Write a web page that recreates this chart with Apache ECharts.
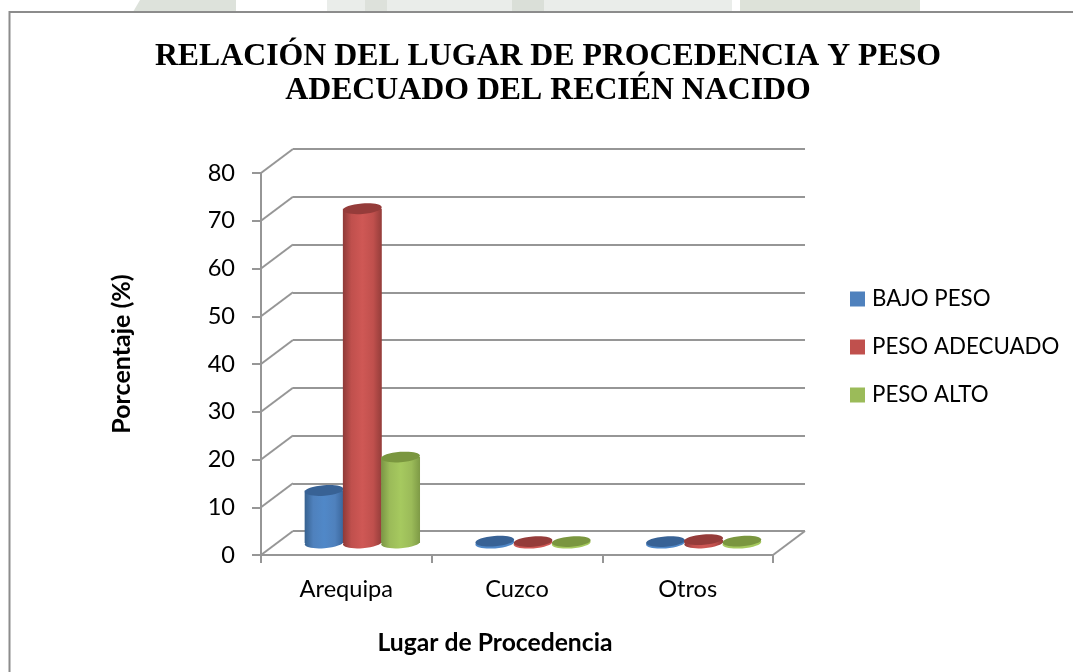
<!DOCTYPE html>
<html>
<head>
<meta charset="utf-8">
<style>html,body{margin:0;padding:0;background:#fff}#c{width:1073px;height:672px}</style>
<script src="https://cdn.jsdelivr.net/npm/echarts@6/dist/echarts.min.js"></script>
</head>
<body>
<div id="c"></div>
<script>
const categories = ['Arequipa', 'Cuzco', 'Otros'];
const bajoPeso = [11, 0.4, 0.3];
const pesoAdecuado = [70, 0.3, 0.7];
const pesoAlto = [18, 0.3, 0.4];
const yTicks = [0, 10, 20, 30, 40, 50, 60, 70, 80];
const titleText = 'RELACIÓN DEL LUGAR DE PROCEDENCIA Y PESO\nADECUADO DEL RECIÉN NACIDO';

const LINE = '#969696';
const DEPTH_X = 32, DEPTH_Y = -24;
const F = { l: 261, r: 773, t: 173, b: 555 };

function cylinderSeries(name, data, slot, pal) {
  return {
    name, type: 'custom', xAxisIndex: 0, yAxisIndex: 0, z: 5,
    itemStyle: { color: pal.legend },
    encode: { x: 0, y: 1 },
    data: data.map((v, i) => [i, v]),
    renderItem(params, api) {
      const top = api.coord([api.value(0), api.value(1)]);
      const base = api.coord([api.value(0), 0]);
      const band = api.size([1, 0])[0];
      const w = band * 0.228;
      const rx = w / 2, ry = 5.2, rot = 0.08;
      const cx = top[0] + DEPTH_X / 2 + slot * band * 0.224;
      const yt = top[1] + DEPTH_Y / 2, yb = base[1] + DEPTH_Y / 2;
      const grad = { type: 'linear', x: 0, y: 0, x2: 1, y2: 0, colorStops: [
        { offset: 0, color: pal.edge }, { offset: 0.22, color: pal.legend }, { offset: 0.5, color: pal.mid },
        { offset: 0.78, color: pal.legend }, { offset: 1, color: pal.edge2 }] };
      const ell = (y, fill) => ({ type: 'ellipse', shape: { cx: 0, cy: 0, rx, ry },
        x: cx, y, rotation: rot, style: { fill } });
      const kids = [];
      if (yb - yt > 3) {
        kids.push(ell(yb, grad));
        kids.push({ type: 'rect', shape: { x: cx - rx, y: yt, width: w, height: yb - yt }, style: { fill: grad } });
      } else {
        kids.push(ell(yb + 0.2, pal.mid));
      }
      kids.push(ell(yt, pal.top));
      return { type: 'group', children: kids };
    }
  };
}

const chart = echarts.init(document.getElementById('c'), null, { renderer: 'canvas' });
chart.setOption({
  animation: false,
  backgroundColor: '#fff',
  title: {
    text: titleText, left: 543, top: 35, textAlign: 'center',
    textStyle: { fontFamily: 'Liberation Serif', fontWeight: 'bold', fontSize: 31.8, lineHeight: 34, color: '#000' }
  },
  legend: {
    orient: 'vertical', left: 850, top: 288, padding: 0, itemWidth: 15, itemHeight: 15, itemGap: 26,
    icon: 'rect', selectedMode: false,
    textStyle: { fontFamily: 'Lato', fontSize: 22.3, color: '#000', padding: [0, 0, 0, 2] },
    data: ['BAJO PESO', 'PESO ADECUADO', 'PESO ALTO']
  },
  grid: [
    { left: F.l, width: F.r - F.l, top: F.t, height: F.b - F.t },
    { left: F.l + DEPTH_X, width: F.r - F.l, top: F.t + DEPTH_Y, height: F.b - F.t }
  ],
  xAxis: [
    { type: 'category', gridIndex: 0, data: categories, boundaryGap: true,
      name: 'Lugar de Procedencia', nameLocation: 'middle', nameGap: 76,
      nameTextStyle: { fontFamily: 'Lato', fontWeight: 'bold', fontSize: 24.7, color: '#000', padding: [0, 44, 0, 0] },
      axisLine: { show: true, lineStyle: { color: LINE, width: 2 } },
      axisTick: { show: true, length: 8, alignWithLabel: false, lineStyle: { color: LINE, width: 2 } },
      axisLabel: { fontFamily: 'Lato', fontSize: 23.6, color: '#000', margin: 22 } },
    { type: 'category', gridIndex: 1, data: categories, show: false }
  ],
  yAxis: [
    { type: 'value', gridIndex: 0, min: 0, max: 80, interval: 10,
      name: 'Porcentaje (%)', nameLocation: 'middle', nameGap: 127,
      nameTextStyle: { fontFamily: 'Lato', fontWeight: 'bold', fontSize: 25, color: '#000', padding: [0, 0, 0, 20] },
      axisLine: { show: true, lineStyle: { color: LINE, width: 2 } },
      axisTick: { show: true, length: 9, lineStyle: { color: LINE, width: 2 } },
      splitLine: { show: false },
      axisLabel: { fontFamily: 'Lato', fontSize: 23.6, color: '#000', margin: 26 } },
    { type: 'value', gridIndex: 1, min: 0, max: 80, interval: 10,
      axisLine: { show: false }, axisTick: { show: false }, axisLabel: { show: false },
      splitLine: { show: true, lineStyle: { color: LINE, width: 2 } } }
  ],
  graphic: [
    { type: 'polygon', silent: true, z: -10, shape: { points: [[133,12],[140,0],[236,0],[236,12]] }, style: { fill: '#dde2db' } },
    { type: 'rect', silent: true, z: -10, shape: { x: 327, y: 0, width: 405, height: 12 }, style: { fill: '#eaedea' } },
    { type: 'rect', silent: true, z: -9, shape: { x: 365, y: 0, width: 22, height: 12 }, style: { fill: '#dde1db' } },
    { type: 'rect', silent: true, z: -9, shape: { x: 512, y: 0, width: 32, height: 12 }, style: { fill: '#dadfd8' } },
    { type: 'rect', silent: true, z: -10, shape: { x: 740, y: 0, width: 180, height: 12 }, style: { fill: '#dde2d9' } },
    { type: 'polyline', silent: true, z: 20, shape: { points: [[9.5,672],[9.5,12],[1073,12]] }, style: { fill: null, stroke: '#8c8c8c', lineWidth: 2 } }
  ],
  series: [
    { type: 'custom', xAxisIndex: 0, yAxisIndex: 0, z: 2, silent: true, legendHoverLink: false,
      encode: { y: 0 }, data: yTicks.map(v => [v]),
      renderItem(params, api) {
        const p = api.coord([0, api.value(0)]);
        const x0 = params.coordSys.x;
        return { type: 'line', shape: { x1: x0, y1: p[1], x2: x0 + DEPTH_X, y2: p[1] + DEPTH_Y },
          style: { stroke: LINE, lineWidth: 2 } };
      } },
    { type: 'custom', xAxisIndex: 0, yAxisIndex: 0, z: 2, silent: true,
      encode: { y: 0 }, data: [[0]],
      renderItem(params, api) {
        const p = api.coord([0, api.value(0)]);
        const x1 = params.coordSys.x + params.coordSys.width;
        return { type: 'line', shape: { x1, y1: p[1], x2: x1 + DEPTH_X, y2: p[1] + DEPTH_Y },
          style: { stroke: LINE, lineWidth: 2 } };
      } },
    cylinderSeries('BAJO PESO', bajoPeso, -1, { legend: '#4f81bd', edge: '#36618f', mid: '#5088c8', edge2: '#3a669c', top: '#386295' }),
    cylinderSeries('PESO ADECUADO', pesoAdecuado, 0, { legend: '#c0504d', edge: '#8e3a38', mid: '#cf5855', edge2: '#943d3a', top: '#953c3a' }),
    cylinderSeries('PESO ALTO', pesoAlto, 1, { legend: '#9bbb59', edge: '#7a9544', mid: '#a6c95f', edge2: '#7e9a46', top: '#7a963f' })
  ]
});
</script>
</body>
</html>
